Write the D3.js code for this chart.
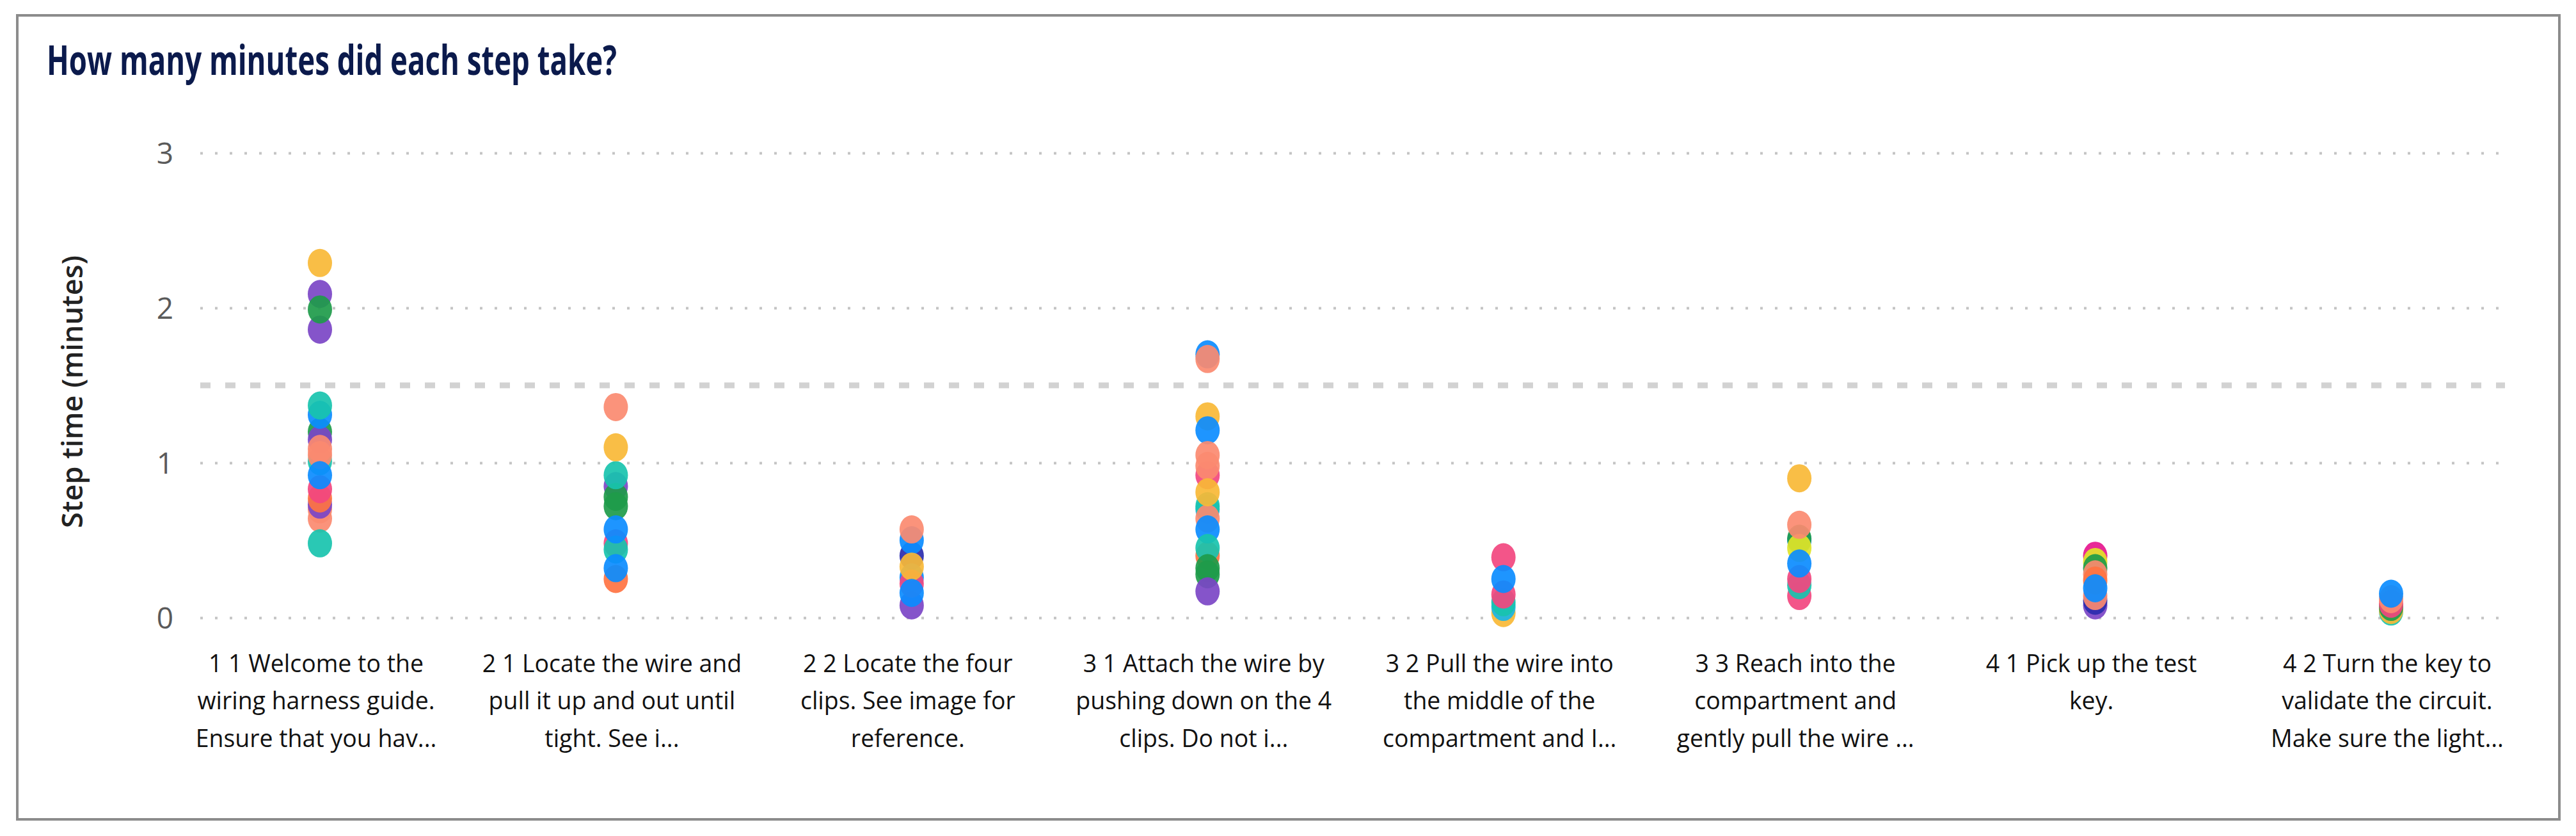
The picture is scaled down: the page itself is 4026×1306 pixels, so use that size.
<!DOCTYPE html>
<html>
<head>
<meta charset="utf-8">
<script src="https://cdn.jsdelivr.net/npm/d3@7"></script>
<style>
  html, body { margin: 0; padding: 0; background: #fff; }
  svg { display: block; font-family: "Open Sans", "Noto Sans", sans-serif; }
</style>
</head>
<body>
<svg width="4026" height="1306"></svg>
<script>
const svg = d3.select('svg');

const width = +svg.attr('width');
const height = +svg.attr('height');

// step labels, already wrapped the way the visual shows them
const steps = ['1 1', '2 1', '2 2', '3 1', '3 2', '3 3', '4 1', '4 2'];
const stepLabels = [
  ['1 1 Welcome to the', 'wiring harness guide.', 'Ensure that you hav...'],
  ['2 1 Locate the wire and', 'pull it up and out until', 'tight. See i...'],
  ['2 2 Locate the four', 'clips. See image for', 'reference.'],
  ['3 1 Attach the wire by', 'pushing down on the 4', 'clips. Do not i...'],
  ['3 2 Pull the wire into', 'the middle of the', 'compartment and I...'],
  ['3 3 Reach into the', 'compartment and', 'gently pull the wire ...'],
  ['4 1 Pick up the test', 'key.'],
  ['4 2 Turn the key to', 'validate the circuit.', 'Make sure the light...']
];

const participants = ['P1', 'P2', 'P3', 'P4', 'P5', 'P6', 'P7', 'P8', 'P9', 'P10', 'P11', 'P12'];
const palette = ['#F8B936', '#7B45C5', '#1E9B4A', '#18C3AE', '#0B8CFF', '#FB8A70',
                 '#F2477F', '#FF7342', '#2B2DAE', '#19B5E6', '#E6168E', '#E0E428'];

// [participant index, minutes] per step, drawn in this order
const step11 = [[5, 0.64], [3, 0.48], [5, 0.70], [1, 0.73], [7, 0.77], [6, 0.83], [3, 1.01],
                [2, 1.20], [1, 1.15], [4, 1.31], [3, 1.37], [5, 1.05], [5, 1.09], [4, 0.92],
                [1, 2.09], [1, 1.86], [2, 1.99], [0, 2.29]];
const step21 = [[7, 0.25], [6, 0.48], [3, 0.44], [4, 0.32], [1, 0.85], [2, 0.78], [2, 0.72],
                [4, 0.57], [3, 0.92], [0, 1.10], [5, 1.36]];
const step22 = [[8, 0.40], [4, 0.50], [4, 0.26], [5, 0.57], [1, 0.08], [6, 0.22], [0, 0.33], [4, 0.16]];
const step31 = [[4, 1.70], [5, 1.67], [0, 1.30], [4, 1.21], [6, 0.92], [5, 0.98], [5, 1.05],
                [9, 0.70], [3, 0.72], [5, 0.64], [0, 0.81], [7, 0.40], [4, 0.57], [3, 0.45],
                [2, 0.32], [2, 0.28], [1, 0.17]];
const step32 = [[0, 0.03], [9, 0.07], [3, 0.10], [6, 0.15], [6, 0.39], [4, 0.25]];
const step33 = [[6, 0.14], [3, 0.21], [6, 0.25], [4, 0.50], [2, 0.51], [11, 0.45], [4, 0.35],
                [5, 0.60], [0, 0.90]];
const step41 = [[1, 0.08], [8, 0.11], [5, 0.14], [10, 0.40], [11, 0.36], [2, 0.32], [5, 0.28],
                [7, 0.24], [4, 0.19]];
const step42 = [[3, 0.04], [0, 0.05], [2, 0.07], [6, 0.09], [5, 0.12], [4, 0.155]];

const stepTimes = [step11, step21, step22, step31, step32, step33, step41, step42];
const yTicks = [0, 1, 2, 3];
const targetLine = 1.5;

const data = [];
stepTimes.forEach((pts, i) => {
  pts.forEach(([p, v]) => data.push({ step: steps[i], participant: participants[p], minutes: v }));
});

const render = () => {
  const title = 'How many minutes did each step take?';
  const condense = 0.96;

  // frame
  svg.append('rect')
    .attr('x', 27).attr('y', 24)
    .attr('width', 3973).attr('height', 1256)
    .attr('fill', '#fff')
    .attr('stroke', '#8c8c8c')
    .attr('stroke-width', 4);

  svg.append('text')
    .attr('x', 73).attr('y', 117)
    .attr('font-size', 64)
    .attr('font-weight', 700)
    .attr('fill', '#0B1A4C')
    .attr('textLength', 891)
    .attr('lengthAdjust', 'spacingAndGlyphs')
    .text(title);

  const xScale = d3.scalePoint()
    .domain(steps)
    .range([500, 3737]);

  const yScale = d3.scaleLinear()
    .domain([0, 3])
    .range([965, 239]);

  const colour = d3.scaleOrdinal(participants, palette);

  // dotted gridlines + tick labels
  const yAxis = d3.axisLeft(yScale)
    .tickValues(yTicks)
    .tickSize(-(3915 - 313))
    .tickPadding(42)
    .tickFormat(d3.format('d'));

  const yG = svg.append('g')
    .attr('transform', 'translate(313,0)')
    .call(yAxis);
  yG.select('.domain').remove();
  yG.selectAll('.tick line')
    .attr('stroke', '#c4c4c4')
    .attr('stroke-width', 4)
    .attr('stroke-dasharray', '4,19');
  yG.selectAll('.tick text')
    .attr('font-size', 46)
    .attr('fill', '#5a5a5a')
    .attr('font-family', '"Open Sans", sans-serif')
    .attr('dy', '0.36em');

  // 1.5 minute reference line
  svg.append('line')
    .attr('x1', 313).attr('x2', 3915)
    .attr('y1', yScale(targetLine)).attr('y2', yScale(targetLine))
    .attr('stroke', '#d2d2d2')
    .attr('stroke-width', 9)
    .attr('stroke-dasharray', '16,23');

  svg.append('text')
    .attr('transform', `translate(129,${(yScale(0) + yScale(3)) / 2 + 10}) rotate(-90)`)
    .attr('text-anchor', 'middle')
    .attr('font-size', 45)
    .attr('font-weight', 600)
    .attr('fill', '#222')
    .text('Step time (minutes)');

  // category labels under the plot
  const xG = svg.append('g');
  stepLabels.forEach((lines, i) => {
    const t = xG.append('g')
      .attr('transform', `translate(${xScale(steps[i]) - 6},0) scale(${condense},1)`);
    lines.forEach((line, j) => {
      t.append('text')
        .attr('x', 0)
        .attr('y', 1050 + j * 58.5)
        .attr('text-anchor', 'middle')
        .attr('font-size', 39)
        .attr('fill', '#111')
        .text(line);
    });
  });

  svg.append('g').selectAll('ellipse').data(data)
    .enter().append('ellipse')
      .attr('cx', d => xScale(d.step))
      .attr('cy', d => yScale(d.minutes))
      .attr('rx', 19)
      .attr('ry', 22)
      .attr('fill', d => colour(d.participant))
      .attr('fill-opacity', 0.92);
};

render();
</script>
</body>
</html>
